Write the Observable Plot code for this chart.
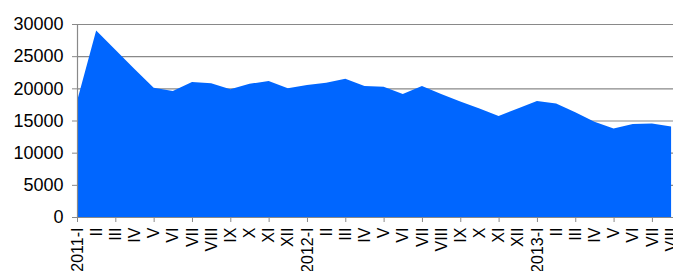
<!DOCTYPE html>
<html>
<head>
<meta charset="utf-8">
<script src="https://cdn.jsdelivr.net/npm/d3@7"></script>
<script src="https://cdn.jsdelivr.net/npm/@observablehq/plot@0.6"></script>
<style>
  html, body { margin: 0; padding: 0; background: #fff; overflow: hidden; }
  #chart svg { font-family: "Liberation Sans", Arial, sans-serif; }
</style>
</head>
<body>
<div id="chart"></div>
<script>
// Month labels (2011-I ... 2013-VIII)
const roman = ["I","II","III","IV","V","VI","VII","VIII","IX","X","XI","XII"];
const years = ["2011", "2012", "2013"];
const monthLabels = [];
years.forEach(y => roman.forEach((r, k) => monthLabels.push(k === 0 ? y + "-" + r : r)));
const labels = monthLabels.slice(0, 32);

// Series values
const values = [
  18000, 29000, 26000, 23000, 20100, 19600, 21000, 20800, 19850, 20700, 21150, 20000,
  20500, 20850, 21500, 20350, 20250, 19100, 20350, 19100, 17950, 16850, 15700, 16850,
  18050, 17650, 16300, 14800, 13750, 14450, 14550, 14050
];
const yTicks = [0, 5000, 10000, 15000, 20000, 25000, 30000];

const data = values.map((v, i) => ({i, v}));
const idx = labels.map((_, i) => i);
const evenIdx = idx.filter(i => i % 2 === 0);
const gray = "#898989";

const chart = Plot.plot({
  width: 673,
  height: 271,
  marginLeft: 77,
  marginRight: 0,
  marginTop: 24,
  marginBottom: 54,
  style: {fontSize: "16px", fontFamily: "Liberation Sans, Arial, sans-serif", color: "#000", background: "#fff"},
  x: {type: "linear", domain: [0, 31.1]},
  y: {domain: [0, 30000]},
  marks: [
    Plot.ruleY(yTicks.slice(1), {stroke: gray, strokeWidth: 1.2}),
    Plot.areaY(data, {x: "i", y: "v", fill: "#0066ff"}),
    Plot.ruleY([0], {stroke: gray, strokeWidth: 1.2}),
    Plot.ruleX([0], {stroke: gray, strokeWidth: 1.2}),
    Plot.axisY({ticks: yTicks, tickSize: 5, tickPadding: 9, stroke: gray, label: null,
      tickFormat: d => String(d), fontSize: 18}),
    Plot.axisX({ticks: evenIdx, tickSize: 5, tickFormat: () => "", stroke: gray, label: null}),
    Plot.axisX({ticks: idx, tickSize: 0, tickPadding: 10, tickRotate: -90, label: null,
      tickFormat: i => labels[i], fontSize: 16})
  ]
});
document.getElementById("chart").appendChild(chart);
</script>
</body>
</html>
